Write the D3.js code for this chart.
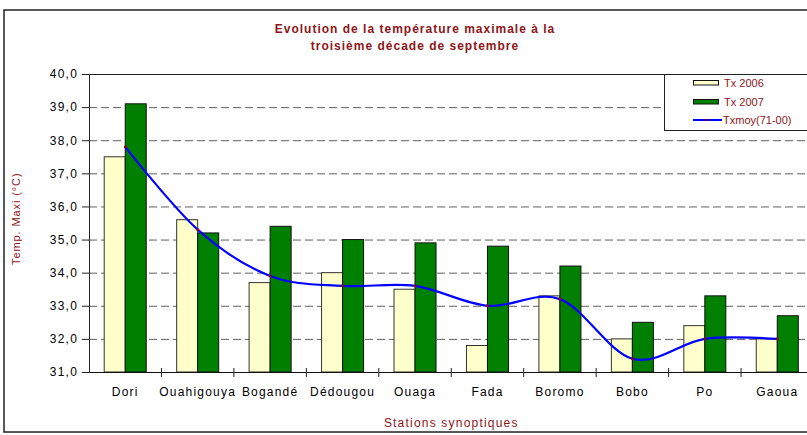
<!DOCTYPE html>
<html><head><meta charset="utf-8">
<script src="https://cdn.jsdelivr.net/npm/d3@7"></script>
<style>
html,body{margin:0;padding:0;background:#fff;}
svg{display:block;font-family:"Liberation Sans",Arial,sans-serif;}
</style></head>
<body><svg id="c" width="807" height="435"></svg>
<script>
const categories = ["Dori","Ouahigouya","Bogandé","Dédougou","Ouaga","Fada","Boromo","Bobo","Po","Gaoua"];
const tx2006 = [37.5,35.6,33.7,34.0,33.5,31.8,33.3,32.0,32.4,32.0];
const tx2007 = [39.1,35.2,35.4,35.0,34.9,34.8,34.2,32.5,33.3,32.7];
const txmoy  = [37.8,35.3,33.9,33.6,33.6,33.0,33.2,31.4,32.0,32.0];
const yTicks = [31,32,33,34,35,36,37,38,39,40];
const seriesNames = ["Tx 2006","Tx 2007","Txmoy(71-00)"];
const titleLines = ["Evolution de la température maximale à la","troisième décade de septembre"];

const svg = d3.select("#c");
const red = "#8E1518";
const L = 89, R = 813.5, T = 74, B = 372;

// outer border
svg.append("rect").attr("x",4).attr("y",10).attr("width",840).attr("height",422)
  .attr("fill","none").attr("stroke","#222").attr("stroke-width",1.5);

const x = d3.scaleBand().domain(categories).range([L,R]).padding(0);
const bw = x.bandwidth();
const x1 = d3.scaleBand().domain(["a","b"]).range([bw*0.21, bw*0.79]).padding(0);
const y = d3.scaleLinear().domain([31,40]).range([B,T]);

// gridlines
svg.append("g").selectAll("line").data(yTicks.filter(v=>v>31 && v<40)).join("line")
  .attr("x1",L).attr("x2",R+20).attr("y1",d=>y(d)+0.5).attr("y2",d=>y(d)+0.5)
  .attr("stroke","#606060").attr("stroke-width",1).attr("stroke-dasharray","8,4");
// top border of plot
svg.append("line").attr("x1",L).attr("x2",R+20).attr("y1",T+0.5).attr("y2",T+0.5)
  .attr("stroke","#222").attr("stroke-width",1);

// bars
const g = svg.append("g");
g.selectAll("rect.a").data(categories).join("rect").attr("class","a")
  .attr("x",(d)=>x(d)+x1("a")).attr("width",x1.bandwidth())
  .attr("y",(d,i)=>y(tx2006[i])).attr("height",(d,i)=>B-y(tx2006[i]))
  .attr("fill","#FFFFCC").attr("stroke","#333").attr("stroke-width",1);
g.selectAll("rect.b").data(categories).join("rect").attr("class","b")
  .attr("x",(d)=>x(d)+x1("b")).attr("width",x1.bandwidth())
  .attr("y",(d,i)=>y(tx2007[i])).attr("height",(d,i)=>B-y(tx2007[i]))
  .attr("fill","#008000").attr("stroke","#111").attr("stroke-width",1);

// line
const pts = categories.map((c,i)=>[x(c)+bw/2, y(txmoy[i])]);
svg.append("path").attr("d", d3.line().curve(d3.curveCardinal.tension(0))(pts))
  .attr("fill","none").attr("stroke","#0000FF").attr("stroke-width",2.2);
svg.append("g").selectAll("rect").data(pts).join("rect")
  .attr("x",d=>d[0]-1.2).attr("y",d=>d[1]-1.2).attr("width",2.4).attr("height",2.4)
  .attr("fill","#A00000");

// y axis
const yAxis = d3.axisLeft(y).tickValues(yTicks).tickSize(7).tickPadding(4)
  .tickFormat(d=>d3.format(".1f")(d).replace(".",","));
const ya = svg.append("g").attr("transform",`translate(${L},0)`).call(yAxis);
ya.select(".domain").attr("stroke","#222");
ya.selectAll(".tick line").attr("stroke","#222");
ya.selectAll("text").attr("font-size",12).attr("letter-spacing","1.2px").attr("fill","#000")
  .attr("font-family","Liberation Sans, Arial, sans-serif");

// x axis
const xa = svg.append("g").attr("transform",`translate(0,${B})`);
xa.append("line").attr("x1",L).attr("x2",R+20).attr("y1",0.5).attr("y2",0.5).attr("stroke","#111");
xa.selectAll("line.t").data(categories.slice(1)).join("line").attr("class","t")
  .attr("x1",d=>x(d)).attr("x2",d=>x(d)).attr("y1",-4).attr("y2",5).attr("stroke","#222");
xa.selectAll("text").data(categories).join("text")
  .attr("x",d=>x(d)+bw/2).attr("y",24).attr("text-anchor","middle")
  .attr("font-size",12).attr("letter-spacing","1.2px").attr("fill","#000").text(d=>d);

// titles
svg.append("g").selectAll("text").data(titleLines).join("text")
  .attr("x",415).attr("y",(d,i)=>33+i*17).attr("text-anchor","middle")
  .attr("font-size",12).attr("font-weight","bold").attr("letter-spacing","1px")
  .attr("fill",red).text(d=>d);
svg.append("text").attr("x",(L+R)/2).attr("y",427).attr("text-anchor","middle")
  .attr("font-size",12).attr("letter-spacing","1.2px").attr("fill",red).text("Stations synoptiques");
svg.append("text").attr("transform","translate(20,265) rotate(-90)")
  .attr("font-size",11).attr("letter-spacing","0.9px").attr("fill",red).text("Temp. Maxi (°C)");

// legend
const lg = svg.append("g");
lg.append("rect").attr("x",664.5).attr("y",74.5).attr("width",200).attr("height",56)
  .attr("fill","#fff").attr("stroke","#222").attr("stroke-width",1);
const ly = [83, 102, 120];
lg.append("rect").attr("x",693.5).attr("y",ly[0]-2.5).attr("width",25).attr("height",4.5)
  .attr("fill","#FFFFCC").attr("stroke","#111");
lg.append("rect").attr("x",693.5).attr("y",ly[1]-2.5).attr("width",25).attr("height",4.5)
  .attr("fill","#008000").attr("stroke","#111");
lg.append("line").attr("x1",693).attr("x2",722).attr("y1",ly[2]).attr("y2",ly[2])
  .attr("stroke","#0000FF").attr("stroke-width",2);
lg.append("rect").attr("x",705.5).attr("y",ly[2]-1).attr("width",2).attr("height",2).attr("fill","#A00000");
lg.selectAll("text").data(seriesNames).join("text")
  .attr("x",(d,i)=>i===2?723:724).attr("y",(d,i)=>ly[i]+4).attr("font-size",11)
  .attr("fill",red).text(d=>d);
</script></body></html>
